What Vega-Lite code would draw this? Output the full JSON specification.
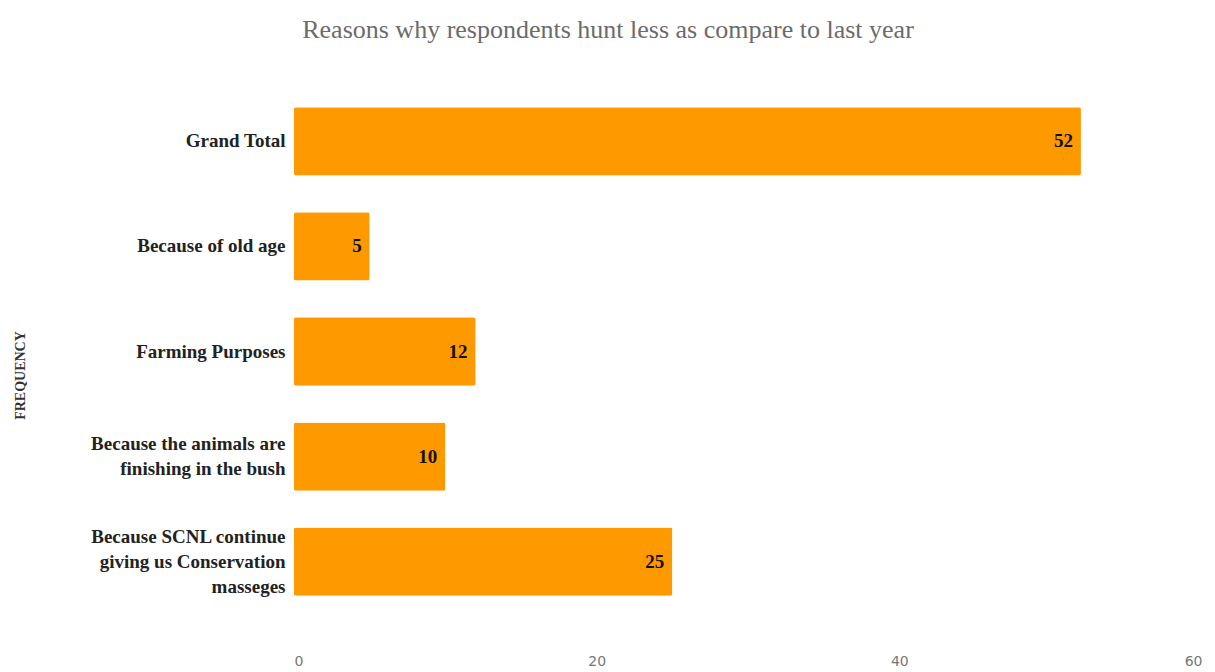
{
  "$schema": "https://vega.github.io/schema/vega-lite/v6.json",
  "autosize": "none",
  "width": 908,
  "height": 583,
  "padding": {"left": 294, "top": 60, "right": 13, "bottom": 29},
  "background": "white",
  "config": {"view": {"stroke": null}},
  "title": {
    "text": "Reasons why respondents hunt less as compare to last year",
    "font": "Liberation Serif",
    "fontSize": 26,
    "fontWeight": "normal",
    "color": "#6b6b6b",
    "anchor": "middle",
    "dx": -140,
    "offset": 17
  },
  "data": {
    "values": [
      {"reason": "Grand Total", "count": 52},
      {"reason": "Because of old age", "count": 5},
      {"reason": "Farming Purposes", "count": 12},
      {"reason": "Because the animals are finishing in the bush", "count": 10},
      {"reason": "Because SCNL continue giving us Conservation masseges", "count": 25}
    ]
  },
  "encoding": {
    "y": {
      "field": "reason",
      "type": "nominal",
      "sort": null,
      "scale": {"paddingInner": 0.35, "paddingOuter": 0.45},
      "axis": {
        "title": "FREQUENCY",
        "titleFont": "Liberation Serif",
        "titleFontSize": 14,
        "titleFontWeight": "bold",
        "titleColor": "#333",
        "titleAngle": -90,
        "titleX": -274,
        "titleY": 315,
        "titleAlign": "center",
        "titleBaseline": "middle",
        "domain": false,
        "ticks": false,
        "labelPadding": 9,
        "labelFont": "Liberation Serif",
        "labelFontSize": 19,
        "labelFontWeight": "bold",
        "labelColor": "#222",
        "labelLineHeight": 25,
        "labelLimit": 300,
        "labelExpr": "datum.value == 'Because the animals are finishing in the bush' ? ['Because the animals are', 'finishing in the bush'] : datum.value == 'Because SCNL continue giving us Conservation masseges' ? ['Because SCNL continue', 'giving us Conservation', 'masseges'] : datum.value",
        "labelOffset": {
          "condition": [
            {"test": "datum.value == 'Because the animals are finishing in the bush'", "value": -12.5},
            {"test": "datum.value == 'Because SCNL continue giving us Conservation masseges'", "value": -25}
          ],
          "value": 0
        }
      }
    },
    "x": {
      "field": "count",
      "type": "quantitative",
      "scale": {"domain": [0, 60]},
      "axis": {
        "title": null,
        "values": [0, 20, 40, 60],
        "grid": false,
        "domain": false,
        "ticks": false,
        "labelPadding": 11,
        "labelFont": "DejaVu Sans",
        "labelFontSize": 14,
        "labelColor": "#777"
      }
    }
  },
  "layer": [
    {
      "mark": {"type": "bar", "color": "#FF9900", "cornerRadius": 2}
    },
    {
      "mark": {
        "type": "text",
        "align": "right",
        "baseline": "middle",
        "dx": -8,
        "font": "Liberation Serif",
        "fontSize": 19,
        "fontWeight": "bold",
        "color": "#111"
      },
      "encoding": {"text": {"field": "count", "type": "quantitative"}}
    }
  ]
}
